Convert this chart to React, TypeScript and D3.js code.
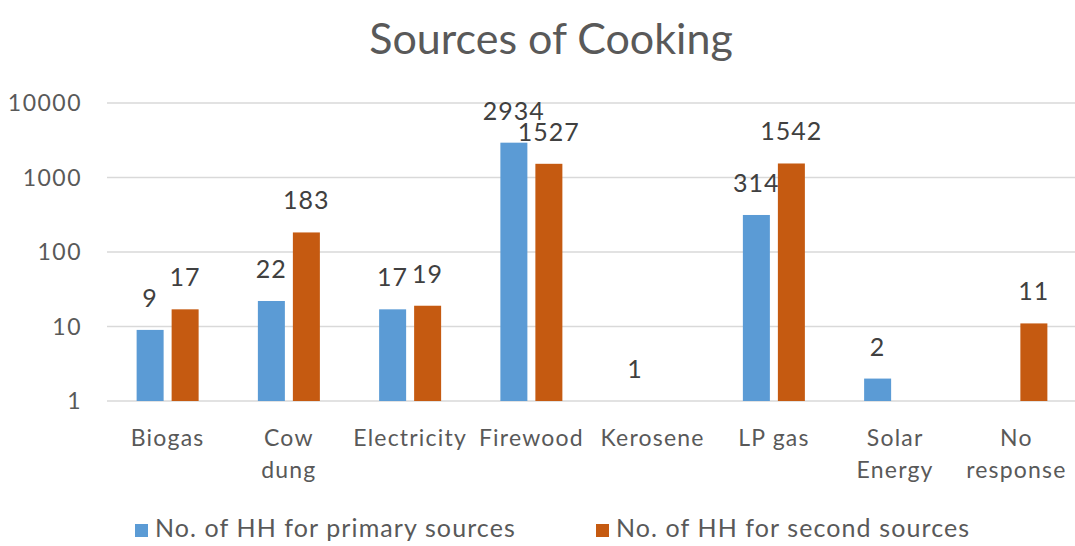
import React from "react";
import * as d3 from "d3";

const categories: string[][] = [
  ["Biogas"],
  ["Cow", "dung"],
  ["Electricity"],
  ["Firewood"],
  ["Kerosene"],
  ["LP gas"],
  ["Solar", "Energy"],
  ["No", "response"],
];
const primary: (number | null)[] = [9, 22, 17, 2934, 1, 314, 2, null];
const secondary: (number | null)[] = [17, 183, 19, 1527, null, 1542, null, 11];
const yTicks: number[] = [1, 10, 100, 1000, 10000];
const seriesNames: string[] = ["No. of HH for primary sources", "No. of HH for second sources"];
const colors = ["#5B9BD5", "#C55A11"];

const W = 1075;
const H = 546;
const FONT = "Lato, 'Open Sans', sans-serif";
const TEXT = "#595959";

export default function App() {
  const x = d3
    .scaleBand<number>()
    .domain(d3.range(categories.length))
    .range([107, 1077]);
  const y = d3.scaleLog().domain([1, 10000]).range([401, 103]);
  const barW = 27;
  const gap = 8;
  const series = [primary, secondary];

  return (
    <svg
      width={W}
      height={H}
      style={{ position: "absolute", left: 0, top: 0, background: "#fff" }}
      fontFamily={FONT}
    >
      <text x={551} y={54} textAnchor="middle" fontSize={43} fill={TEXT}>
        Sources of Cooking
      </text>
      {yTicks.map((t) => (
        <g key={t}>
          <line x1={107} x2={W} y1={y(t)} y2={y(t)} stroke="#D9D9D9" strokeWidth={1.5} />
          <text
            x={82}
            y={y(t)}
            dy="0.35em"
            textAnchor="end"
            fontSize={23}
            letterSpacing={1.5}
            fill={TEXT}
          >
            {t}
          </text>
        </g>
      ))}
      {series.map((vals, s) =>
        vals.map((v, i) => {
          if (v == null) return null;
          const c = (x(i) as number) + x.bandwidth() / 2;
          const bx = s === 0 ? c - gap / 2 - barW : c + gap / 2;
          const top = y(v);
          return (
            <g key={`${s}-${i}`}>
              <rect x={bx} y={top} width={barW} height={y(1) - top} fill={colors[s]} />
              <text
                x={bx + barW / 2}
                y={top - 23}
                textAnchor="middle"
                fontSize={25}
                letterSpacing={1}
                fill="#404040"
              >
                {v}
              </text>
            </g>
          );
        })
      )}
      {categories.map((lines, i) => {
        const c = (x(i) as number) + x.bandwidth() / 2;
        return (
          <text key={i} textAnchor="middle" fontSize={23} letterSpacing={1.2} fill={TEXT}>
            {lines.map((l, k) => (
              <tspan key={k} x={c} y={446 + k * 32}>
                {l}
              </tspan>
            ))}
          </text>
        );
      })}
      {seriesNames.map((n, s) => {
        const lx = s === 0 ? 135 : 596;
        return (
          <g key={n}>
            <rect x={lx} y={524} width={13} height={13} fill={colors[s]} />
            <text x={lx + 20} y={537} fontSize={25} letterSpacing={1.1} fill={TEXT}>
              {n}
            </text>
          </g>
        );
      })}
    </svg>
  );
}
